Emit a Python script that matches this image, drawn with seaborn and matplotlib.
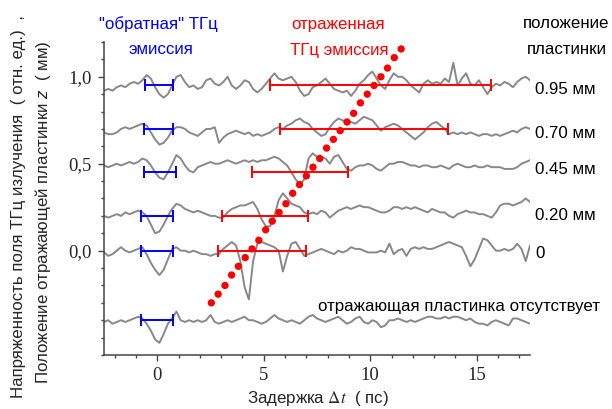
import numpy as np
import pandas as pd
import matplotlib
matplotlib.use("Agg")
import matplotlib.pyplot as plt
from matplotlib.ticker import FixedLocator, MultipleLocator, FixedFormatter
import seaborn as sns

# ---- data -------------------------------------------------------------
# delay axis (ps), sampled every 0.2 ps
delay = np.round(np.arange(-2.5, 17.5001, 0.2), 2)

# THz field traces (arb. units), vertically placed at the plate position
trace_095 = [0.92, 0.93, 0.92, 0.94, 0.95, 0.94, 0.96, 0.97, 0.96, 0.98,
             1.01, 0.99, 0.94, 0.90, 0.88, 0.90, 0.95, 1.00, 1.01, 0.97,
             0.94, 0.95, 0.93, 0.94, 0.98, 0.99, 0.96, 0.95, 0.97, 1.00,
             0.95, 0.93, 0.95, 0.98, 0.97, 0.93, 0.91, 0.93, 0.96, 0.99,
             1.02, 0.99, 0.98, 0.99, 1.00, 0.97, 0.92, 0.89, 0.90, 0.94,
             0.95, 0.97, 0.99, 0.96, 0.93, 0.92, 0.91, 0.92, 0.89, 0.92,
             0.96, 0.98, 1.01, 1.03, 0.99, 0.95, 0.93, 0.98, 1.02, 1.00,
             1.00, 0.98, 0.95, 0.93, 0.91, 0.96, 0.98, 0.96, 0.97, 0.96,
             0.99, 0.97, 1.08, 0.95, 0.99, 1.02, 0.96, 0.95, 0.98, 0.94,
             0.90, 0.94, 0.96, 0.95, 0.97, 0.96, 0.94, 0.97, 0.99, 1.00,
             0.98]
trace_070 = [0.68, 0.67, 0.67, 0.68, 0.70, 0.71, 0.70, 0.71, 0.72, 0.73,
             0.72, 0.68, 0.64, 0.61, 0.62, 0.65, 0.69, 0.71, 0.71, 0.70,
             0.68, 0.67, 0.66, 0.68, 0.70, 0.70, 0.71, 0.62, 0.65, 0.67,
             0.68, 0.69, 0.68, 0.67, 0.68, 0.66, 0.67, 0.66, 0.67, 0.68,
             0.70, 0.71, 0.70, 0.72, 0.73, 0.75, 0.76, 0.74, 0.73, 0.70,
             0.68, 0.66, 0.67, 0.71, 0.74, 0.76, 0.75, 0.73, 0.74, 0.73,
             0.75, 0.77, 0.76, 0.75, 0.72, 0.69, 0.71, 0.72, 0.73, 0.72,
             0.70, 0.68, 0.66, 0.64, 0.66, 0.68, 0.71, 0.73, 0.74, 0.72,
             0.70, 0.67, 0.68, 0.67, 0.68, 0.67, 0.68, 0.67, 0.66, 0.67,
             0.67, 0.66, 0.67, 0.66, 0.67, 0.68, 0.69, 0.68, 0.70, 0.71,
             0.70]
trace_045 = [0.49, 0.48, 0.49, 0.50, 0.49, 0.50, 0.51, 0.50, 0.51, 0.53,
             0.52, 0.49, 0.45, 0.42, 0.41, 0.45, 0.50, 0.55, 0.53, 0.49,
             0.46, 0.45, 0.48, 0.49, 0.50, 0.51, 0.50, 0.50, 0.51, 0.52,
             0.51, 0.50, 0.51, 0.52, 0.51, 0.52, 0.51, 0.52, 0.52, 0.53,
             0.54, 0.53, 0.51, 0.49, 0.45, 0.41, 0.38, 0.41, 0.53, 0.56,
             0.54, 0.54, 0.53, 0.50, 0.54, 0.55, 0.51, 0.47, 0.46, 0.48,
             0.49, 0.49, 0.50, 0.49, 0.47, 0.46, 0.48, 0.50, 0.50, 0.51,
             0.51, 0.50, 0.49, 0.49, 0.48, 0.49, 0.49, 0.48, 0.48, 0.49,
             0.48, 0.47, 0.49, 0.50, 0.49, 0.48, 0.48, 0.49, 0.48, 0.48,
             0.49, 0.48, 0.48, 0.48, 0.47, 0.47, 0.47, 0.48, 0.50, 0.51,
             0.52]
trace_020 = [0.20, 0.19, 0.20, 0.21, 0.20, 0.22, 0.21, 0.22, 0.23, 0.22,
             0.20, 0.15, 0.10, 0.11, 0.15, 0.20, 0.24, 0.27, 0.26, 0.24,
             0.23, 0.22, 0.23, 0.22, 0.21, 0.20, 0.20, 0.19, 0.19, 0.22,
             0.24, 0.25, 0.26, 0.26, 0.27, 0.28, 0.24, 0.18, 0.14, 0.14,
             0.20, 0.29, 0.33, 0.30, 0.27, 0.26, 0.25, 0.22, 0.21, 0.22,
             0.21, 0.23, 0.22, 0.19, 0.21, 0.23, 0.24, 0.25, 0.24, 0.25,
             0.26, 0.25, 0.25, 0.24, 0.23, 0.22, 0.22, 0.23, 0.25, 0.25,
             0.24, 0.25, 0.24, 0.25, 0.24, 0.23, 0.22, 0.24, 0.23, 0.22,
             0.22, 0.20, 0.19, 0.21, 0.22, 0.23, 0.22, 0.22, 0.21, 0.21,
             0.20, 0.19, 0.22, 0.26, 0.27, 0.27, 0.26, 0.27, 0.28, 0.30,
             0.28]
trace_000 = [-0.01, -0.03, -0.02, 0.00, 0.02, 0.00, -0.01, 0.00, 0.01, 0.02,
             -0.02, -0.07, -0.11, -0.14, -0.11, -0.05, 0.01, 0.02, 0.00, 0.00,
             -0.01, 0.00, -0.01, -0.02, -0.02, -0.03, -0.02, -0.02, 0.01, 0.03,
             0.05, 0.03, -0.06, -0.21, -0.28, -0.06, 0.04, 0.05, 0.04, 0.03,
             0.02, 0.00, -0.12, -0.03, 0.04, 0.05, 0.01, -0.03, -0.02, -0.01,
             0.00, 0.01, 0.00, -0.01, -0.02, 0.00, -0.01, 0.00, 0.02, 0.01,
             0.01, 0.00, -0.01, -0.01, -0.01, 0.00, -0.01, 0.04, -0.02, 0.00,
             0.01, -0.03, 0.01, 0.02, 0.01, 0.02, 0.01, 0.01, 0.02, 0.03,
             0.04, 0.05, 0.04, 0.03, 0.02, -0.03, -0.09, -0.05, 0.01, 0.07,
             0.06, 0.03, 0.00, 0.00, 0.01, 0.00, 0.01, 0.04, 0.01, -0.06,
             0.03]
trace_none = [-0.41, -0.40, -0.42, -0.41, -0.40, -0.41, -0.40, -0.39, -0.38, -0.39,
              -0.42, -0.46, -0.51, -0.53, -0.48, -0.42, -0.39, -0.35, -0.40, -0.41,
              -0.40, -0.41, -0.40, -0.41, -0.40, -0.37, -0.41, -0.42, -0.41, -0.40,
              -0.41, -0.40, -0.39, -0.38, -0.40, -0.40, -0.41, -0.42, -0.41, -0.39,
              -0.37, -0.39, -0.40, -0.41, -0.40, -0.41, -0.42, -0.40, -0.38, -0.37,
              -0.39, -0.40, -0.41, -0.40, -0.39, -0.38, -0.40, -0.42, -0.41, -0.39,
              -0.38, -0.41, -0.42, -0.40, -0.41, -0.44, -0.43, -0.40, -0.40, -0.39,
              -0.40, -0.41, -0.40, -0.41, -0.40, -0.39, -0.38, -0.38, -0.39, -0.39,
              -0.38, -0.39, -0.38, -0.38, -0.39, -0.40, -0.39, -0.41, -0.42, -0.42,
              -0.43, -0.41, -0.40, -0.41, -0.42, -0.43, -0.39, -0.39, -0.40, -0.41,
              -0.42]

trace_names = ["0.95", "0.70", "0.45", "0.20", "0", "none"]
traces = [trace_095, trace_070, trace_045, trace_020, trace_000, trace_none]

# plate position of each trace (mm) and emission windows (ps)
bar_level = [0.95, 0.70, 0.45, 0.20, 0.0, -0.40]
back_lo = [-0.56, -0.64, -0.64, -0.75, -0.75, -0.77]
back_hi = [0.74, 0.74, 0.90, 0.74, 0.74, 0.74]
refl_level = [0.95, 0.70, 0.45, 0.20, 0.0]
refl_lo = [5.30, 5.77, 4.47, 3.03, 2.83]
refl_hi = [15.69, 13.66, 8.94, 7.09, 6.97]

# expected arrival of the reflected pulse vs. plate position
arrival_t = [2.54, 2.86, 3.18, 3.49, 3.81, 4.13, 4.45, 4.77, 5.09, 5.40,
             5.72, 6.04, 6.36, 6.68, 7.00, 7.31, 7.63, 7.95, 8.27, 8.59,
             8.91, 9.22, 9.54, 9.86, 10.18, 10.50, 10.81, 11.13, 11.45]
arrival_z = [-0.30, -0.25, -0.20, -0.14, -0.09, -0.04, 0.01, 0.06, 0.12, 0.17,
             0.22, 0.27, 0.33, 0.38, 0.43, 0.48, 0.53, 0.59, 0.64, 0.69,
             0.74, 0.79, 0.85, 0.90, 0.95, 1.00, 1.05, 1.11, 1.16]

xtick_major = [0, 5, 10, 15]
ytick_major = [0.0, 0.5, 1.0]
ytick_labels = ["0,0", "0,5", "1,0"]

position_labels = ["0.95 мм", "0.70 мм", "0.45 мм", "0.20 мм", "0"]

# ---- style ------------------------------------------------------------
sns.set_style("ticks")
plt.rcParams["font.family"] = ["Liberation Sans", "DejaVu Sans"]
plt.rcParams["mathtext.fontset"] = "custom"
plt.rcParams["mathtext.rm"] = "Liberation Sans"
plt.rcParams["mathtext.it"] = "Liberation Sans:italic"

FS = 12.2
W, H = 612, 409
fig = plt.figure(figsize=(W / 100, H / 100), dpi=100)
ax = fig.add_axes([104 / W, 1 - 355 / H, 426 / W, 313 / H])

long = pd.DataFrame({
    "delay": np.tile(delay, len(traces)),
    "field": np.concatenate([np.asarray(t) for t in traces]),
    "trace": np.repeat(trace_names, len(delay)),
})
sns.lineplot(data=long, x="delay", y="field", hue="trace", units="trace",
             estimator=None, sort=False, palette=["#888888"] * len(traces),
             linewidth=1.4, legend=False, ax=ax, zorder=2)

bar_kw = dict(fmt="none", capsize=4.2, elinewidth=1.4, capthick=1.4, zorder=3)
for lv, lo, hi in zip(bar_level, back_lo, back_hi):
    ax.errorbar([(lo + hi) / 2], [lv], xerr=[[(hi - lo) / 2], [(hi - lo) / 2]],
                ecolor="#0000ff", **bar_kw)
for lv, lo, hi in zip(refl_level, refl_lo, refl_hi):
    ax.errorbar([(lo + hi) / 2], [lv], xerr=[[(hi - lo) / 2], [(hi - lo) / 2]],
                ecolor="#ff0000", **bar_kw)

sns.scatterplot(x=arrival_t, y=arrival_z, color="#ff0000", s=28,
                edgecolor="none", ax=ax, zorder=4)

ax.set_xlim(-2.5, 17.5)
ax.set_ylim(-0.6, 1.2)
ax.set_xlabel("")
ax.set_ylabel("")
sns.despine(ax=ax)
for side in ("left", "bottom"):
    ax.spines[side].set_color("#444444")
    ax.spines[side].set_linewidth(1.1)

ax.xaxis.set_major_locator(FixedLocator(xtick_major))
ax.xaxis.set_minor_locator(MultipleLocator(1))
ax.yaxis.set_major_locator(FixedLocator(ytick_major))
ax.yaxis.set_major_formatter(FixedFormatter(ytick_labels))
ax.yaxis.set_minor_locator(MultipleLocator(0.1))
ax.tick_params(which="major", direction="out", length=4, width=1.0,
               color="#444444", labelsize=13.5, pad=5)
ax.tick_params(which="minor", direction="out", length=2.5, width=1.0,
               color="#444444")
for lab in ax.get_xticklabels() + ax.get_yticklabels():
    lab.set_family("Liberation Serif")


def ftext(px, py, s, **kw):
    fig.text(px / W, 1 - py / H, s, **kw)


ftext(158, 24, '"обратная" ТГц', color="#0000ff", fontsize=FS, ha="center", va="center")
ftext(161, 50, "эмиссия", color="#0000ff", fontsize=FS, ha="center", va="center")
ftext(338, 24, "отраженная", color="#ff0000", fontsize=FS, ha="center", va="center")
ftext(339, 50, "ТГц эмиссия", color="#ff0000", fontsize=FS, ha="center", va="center")
ftext(566, 24, "положение", color="black", fontsize=FS, ha="center", va="center")
ftext(567, 50, "пластинки", color="black", fontsize=FS, ha="center", va="center")

for lab, py in zip(position_labels, [89, 133, 170, 215, 253]):
    ftext(535, py, lab, color="black", fontsize=FS, ha="left", va="center")
ftext(318, 306, "отражающая пластинка отсутствует", color="black",
      fontsize=FS, ha="left", va="center")

ftext(318, 399, r"Задержка $\Delta t$  ( пс)", fontsize=FS, ha="center",
      va="center", math_fontfamily="stix")

ftext(19, 206, "Напряженность поля ТГц излучения  ( отн. ед.)  ,",
      fontsize=FS, rotation=90, ha="center", va="center")
ftext(43, 212, r"Положение отражающей пластинки $z$  ( мм)",
      fontsize=FS, rotation=90, ha="center", va="center")

fig.savefig("out.png", dpi=100)
